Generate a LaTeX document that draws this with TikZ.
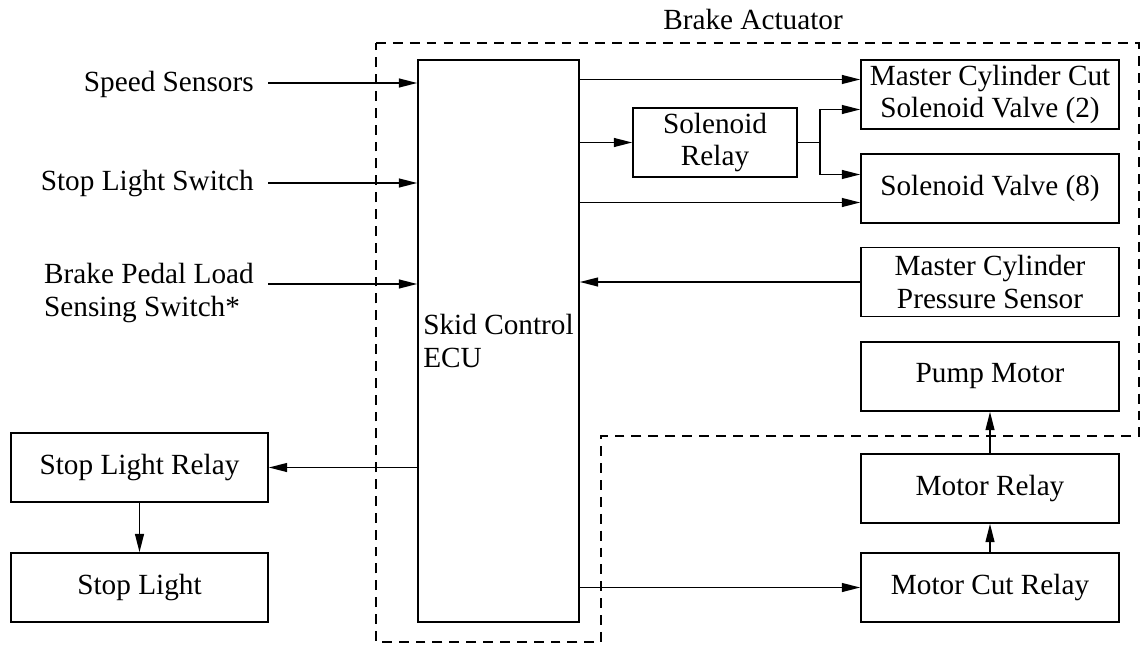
\documentclass[tikz,border=0pt]{standalone}
\usepackage{fontspec}
\setmainfont{Liberation Serif}
\usetikzlibrary{arrows.meta,positioning,calc}
\tikzset{
  blk/.style={draw, line width=1.1pt, inner sep=0pt, minimum width=6.45cm,
    minimum height=1.725cm, align=center},
  inlab/.style={inner xsep=0.35cm, inner ysep=0pt, anchor=east, align=left},
  flow/.style={-{Triangle[length=13pt, width=6.3pt]}, line width=1.1pt},
  wire/.style={line width=1.1pt},
  bound/.style={line width=1.1pt, dash pattern=on 7pt off 5pt},
}

\begin{document}
\begin{tikzpicture}[x=0.025cm, y=-0.025cm, font=\fontsize{20.8pt}{22.8pt}\selectfont]
\useasboundingbox (0,0) rectangle (1141,644);

% The control unit and the blocks it drives or reads.
\node[blk, minimum width=4.025cm, minimum height=14.05cm, align=left] (ecu)
  at (498.5,341) {Skid Control\\ECU};
\node[blk, minimum width=4.1cm] (sr) at (715,142.5) {Solenoid\\Relay};
\node[blk] (mcc) at (990,94.5) {Master Cylinder Cut\\Solenoid Valve (2)};
\node[blk] (sv) at (990,188.5) {Solenoid Valve (8)};
\node[blk] (mcps) at (990,282) {Master Cylinder\\Pressure Sensor};
\node[blk] (pump) at (990,376.5) {Pump Motor};
\node[blk] (mrel) at (990,488.5) {Motor Relay};
\node[blk] (mcut) at (990,587.5) {Motor Cut Relay};
\node[blk, minimum width=6.425cm] (slr) at (139.5,467.5) {Stop Light Relay};
\node[blk, minimum width=6.425cm] (sl) at (139.5,587.5) {Stop Light};

% Input signals on the left.
\node[inlab] (spd) at (268,84) {Speed Sensors};
\node[inlab] (sls) at (268,184) {Stop Light Switch};
\node[inlab] (bpl) at (268,293) {Brake Pedal Load\\Sensing Switch*};
\coordinate (bplout) at ([yshift=0.225cm]bpl.east);
\draw[flow] ([yshift=0.025cm]spd.east) -- ([yshift=0.025cm]spd.east -| ecu.west);
\draw[flow] ([yshift=0.025cm]sls.east) -- ([yshift=0.025cm]sls.east -| ecu.west);
\draw[flow] (bplout) -- (bplout -| ecu.west);

% Outputs to the valves, through the solenoid relay or direct.
\coordinate (mcc1) at ([yshift=0.375cm]mcc.west);
\coordinate (mcc2) at ([yshift=-0.375cm]mcc.west);
\coordinate (sv1) at ([yshift=0.35cm]sv.west);
\coordinate (sv2) at ([yshift=-0.35cm]sv.west);
\draw[flow] (ecu.east |- mcc1) -- (mcc1);
\draw[flow] (ecu.east |- sr.west) -- (sr.west);
\draw[flow] (ecu.east |- sv2) -- (sv2);
\draw[wire] (sr.east) -- ++(22,0) coordinate (srfork);
\draw[flow] (srfork) |- (mcc2);
\draw[flow] (srfork) |- (sv1);
\draw[flow] (mcps.west) -- (mcps.west -| ecu.east);

% Stop light chain and pump motor chain.
\draw[flow] (ecu.west |- slr.east) -- (slr.east);
\draw[flow] (slr) -- (sl);
\draw[flow] (ecu.east |- mcut.west) -- (mcut.west);
\draw[flow] (mcut) -- (mrel);
\draw[flow] (mrel) -- (pump);

% The actuator housing.
\draw[bound] (376,43) -- (1139,43) -- (1139,436) -- (601,436) -- (601,642)
  -- (376,642) -- cycle;
\node (act) at (753,19) {Brake Actuator};

\end{tikzpicture}
\end{document}
